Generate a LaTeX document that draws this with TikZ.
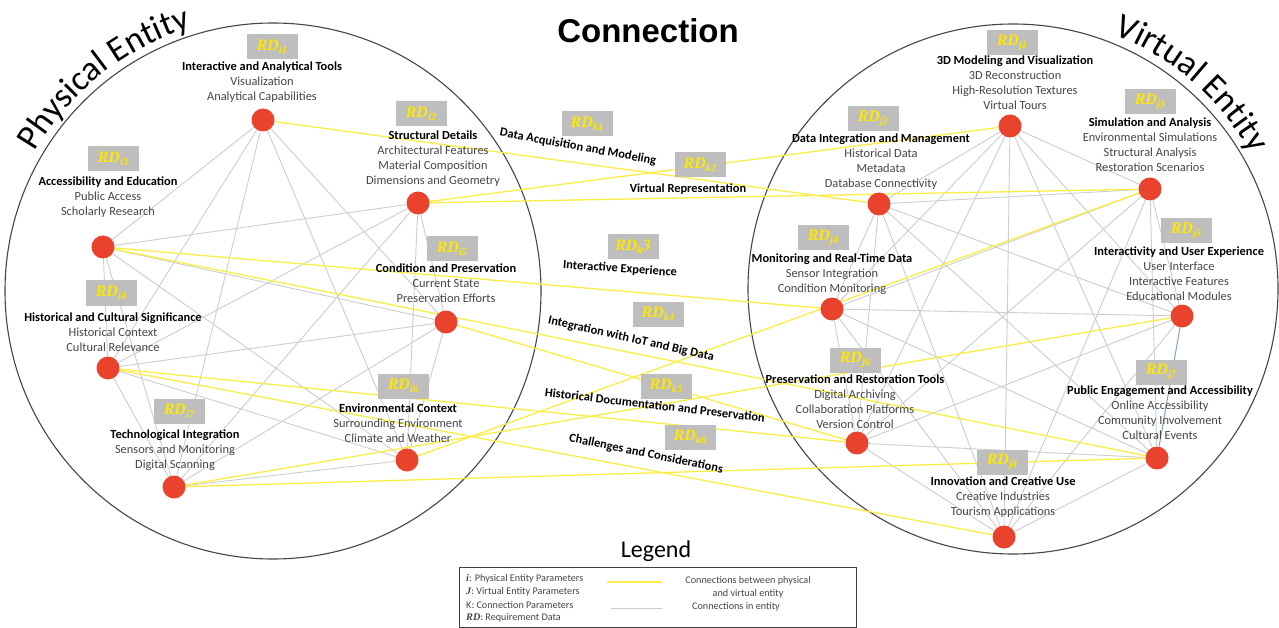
\documentclass[tikz,border=0pt]{standalone}
\usepackage{fontspec}
\setmainfont{Carlito}
\newfontfamily\headfont{Liberation Sans}
\newfontfamily\rdfont{Liberation Serif}
\usetikzlibrary{decorations.text}
\pgfdeclarelayer{bg}
\pgfsetlayers{bg,main}
\definecolor{dotred}{RGB}{234,67,45}
\definecolor{lineyellow}{RGB}{250,238,70}
\definecolor{linegray}{RGB}{205,205,205}
\definecolor{lineblue}{RGB}{125,160,215}
\definecolor{boxgray}{RGB}{190,190,190}
\definecolor{rdyellow}{RGB}{255,232,0}
\definecolor{subgray}{RGB}{70,70,70}
\definecolor{circgray}{RGB}{70,70,70}
\newcommand\nodetitle[1]{{\color{black}\bfseries #1}}
\newcommand\rdsub[1]{{\rdfont\bfseries\itshape RD\raisebox{-0.4ex}{\fontsize{10.5}{10.5}\selectfont #1}}}
\begin{document}
\begin{tikzpicture}[x=1pt,y=-1pt,
 dot/.style={circle,fill=dotred,minimum size=23pt,inner sep=0pt},
 rdbox/.style={fill=boxgray,minimum width=51pt,minimum height=25pt,inner sep=0pt,text=rdyellow,font=\fontsize{16}{16}\selectfont},
 info/.style={align=center,font=\fontsize{12.4}{15}\selectfont,text=subgray,inner sep=0pt},
 gedge/.style={draw=linegray,line width=0.9pt},
 bedge/.style={draw=lineblue,line width=1pt},
 yedge/.style={draw=lineyellow,line width=1.3pt},
 clabel/.style={font=\bfseries\fontsize{12.4}{13}\selectfont,inner sep=0pt,text=black},
 ent/.style={draw=circgray,line width=1.1pt},
 legtext/.style={font=\fontsize{10.2}{11}\selectfont,text=subgray,inner sep=0pt}]
\useasboundingbox (0,0) rectangle (1279,628);
\begin{pgfonlayer}{bg}
\fill[white] (0,0) rectangle (1279,628);
\draw[ent] (273,291) circle[radius=268];
\draw[ent] (1013,289) circle[radius=265];
\end{pgfonlayer}

% titles
\node[font=\headfont\bfseries\fontsize{33}{33}\selectfont] (title) at (648,31) {Connection};
\path[decorate,decoration={text along path,text align=center,text={|\fontsize{35}{35}\selectfont|Physical Entity}}]
  (273,291) ++(-162:276) arc[start angle=-162,end angle=-95,radius=276];
\path[decorate,decoration={text along path,text align=center,text={|\fontsize{35}{35}\selectfont|Virtual Entity}}]
  (1013,289) ++(-83:274) arc[start angle=-83,end angle=-15,radius=274];

% dots
\node[dot] (i1) at (263,120) {};
\node[dot] (i2) at (418,203) {};
\node[dot] (i3) at (103,247) {};
\node[dot] (i4) at (108,368) {};
\node[dot] (i5) at (446,322) {};
\node[dot] (i6) at (407,460) {};
\node[dot] (i7) at (174,487) {};
\node[dot] (j1) at (1010,126) {};
\node[dot] (j2) at (879,204) {};
\node[dot] (j3) at (1150,189) {};
\node[dot] (j4) at (832,309) {};
\node[dot] (j5) at (1182,316) {};
\node[dot] (j6) at (857,443) {};
\node[dot] (j7) at (1157,458) {};
\node[dot] (j8) at (1004,537) {};

% connectors
\begin{pgfonlayer}{bg}
\foreach \a/\b in {i1/i3,i1/i4,i1/i5,i1/i6,i1/i7,i2/i3,i2/i4,i2/i5,i2/i6,i2/i7,
  i3/i4,i3/i5,i3/i6,i3/i7,i4/i5,i4/i6,i4/i7,i5/i6,i5/i7,i6/i7}
  \draw[gedge] (\a) -- (\b);
\foreach \a/\b in {j1/j2,j1/j3,j1/j4,j1/j5,j1/j6,j1/j7,j1/j8,j2/j3,j2/j4,j2/j5,j2/j6,j2/j7,j2/j8,
  j3/j4,j3/j5,j3/j6,j3/j7,j3/j8,j4/j5,j4/j6,j4/j7,j4/j8,j5/j6,j5/j8,j6/j7,j6/j8,j7/j8}
  \draw[gedge] (\a) -- (\b);
\draw[bedge] (j5) -- (j7);
\foreach \a/\b in {i1/j2,i2/j1,i2/j3,i3/j4,i3/j7,i5/j6,i4/j6,i4/j8,i6/j3,i7/j5,i7/j7}
  \draw[yedge] (\a) -- (\b);
\end{pgfonlayer}

% texts physical
\node[info] (i1t) at (262,82) {\nodetitle{Interactive and Analytical Tools}\\Visualization\\Analytical Capabilities};
\node[info] (i2t) at (433,159) {\nodetitle{Structural Details}\\Architectural Features\\Material Composition\\Dimensions and Geometry};
\node[info] (i3t) at (108,197) {\nodetitle{Accessibility and Education}\\Public Access\\Scholarly Research};
\node[info] (i5t) at (446,283) {\nodetitle{Condition and Preservation}\\Current State\\Preservation Efforts};
\node[info] (i4t) at (113,332) {\nodetitle{Historical and Cultural Significance}\\Historical Context\\Cultural Relevance};
\node[info] (i7t) at (175,450) {\nodetitle{Technological Integration}\\Sensors and Monitoring\\Digital Scanning};
\node[info] (i6t) at (398,423) {\nodetitle{Environmental Context}\\Surrounding Environment\\Climate and Weather};
% texts virtual
\node[info] (j1t) at (1015,83) {\nodetitle{3D Modeling and Visualization}\\3D Reconstruction\\High-Resolution Textures\\Virtual Tours};
\node[info] (j2t) at (881,162) {\nodetitle{Data Integration and Management}\\Historical Data\\Metadata\\Database Connectivity};
\node[info] (j3t) at (1150,145) {\nodetitle{Simulation and Analysis}\\Environmental Simulations\\Structural Analysis\\Restoration Scenarios};
\node[info] (j4t) at (832,274) {\nodetitle{Monitoring and Real-Time Data}\\Sensor Integration\\Condition Monitoring};
\node[info] (j5t) at (1179,274) {\nodetitle{Interactivity and User Experience}\\User Interface\\Interactive Features\\Educational Modules};
\node[info] (j6t) at (855,402) {\nodetitle{Preservation and Restoration Tools}\\Digital Archiving\\Collaboration Platforms\\Version Control};
\node[info] (j7t) at (1160,413) {\nodetitle{Public Engagement and Accessibility}\\Online Accessibility\\Community Involvement\\Cultural Events};
\node[info] (j8t) at (1003,497) {\nodetitle{Innovation and Creative Use}\\Creative Industries\\Tourism Applications};

% connection labels
\node[clabel,rotate=-10.4] (k1t) at (578,147) {Data Acquisition and Modeling};
\node[clabel] (k2t) at (688,189) {Virtual Representation};
\node[clabel,rotate=-4] (k3t) at (620,269) {Interactive Experience};
\node[clabel,rotate=-12.7] (k4t) at (631,339) {Integration with IoT and Big Data};
\node[clabel,rotate=-6.7] (k5t) at (655,405) {Historical Documentation and Preservation};
\node[clabel,rotate=-11.7] (k6t) at (646,454) {Challenges and Considerations};

% RD boxes
\node[rdbox] (i1b) at (272,47) {\rdsub{i1}};
\node[rdbox] (i2b) at (421,114) {\rdsub{i2}};
\node[rdbox] (i3b) at (113,159) {\rdsub{i3}};
\node[rdbox] (i5b) at (452,249) {\rdsub{i5}};
\node[rdbox] (i4b) at (111,293) {\rdsub{i4}};
\node[rdbox] (i7b) at (179,411) {\rdsub{i7}};
\node[rdbox] (i6b) at (403,386) {\rdsub{i6}};
\node[rdbox] (k1b) at (587,124) {\rdsub{k1}};
\node[rdbox] (k2b) at (700,165) {\rdsub{k2}};
\node[rdbox] (k3b) at (633,247) {\rdsub{k}{\rdfont\bfseries\itshape 3}};
\node[rdbox] (k4b) at (658,314) {\rdsub{k4}};
\node[rdbox] (k5b) at (666,386) {\rdsub{k5}};
\node[rdbox] (k6b) at (690,437) {\rdsub{k6}};
\node[rdbox] (j1b) at (1012,43) {\rdsub{j1}};
\node[rdbox] (j2b) at (873,119) {\rdsub{j2}};
\node[rdbox] (j3b) at (1150,102) {\rdsub{j3}};
\node[rdbox] (j4b) at (823,238) {\rdsub{j4}};
\node[rdbox] (j5b) at (1186,231) {\rdsub{j5}};
\node[rdbox] (j6b) at (855,360) {\rdsub{j6}};
\node[rdbox] (j7b) at (1161,372) {\rdsub{j7}};
\node[rdbox] (j8b) at (1002,462) {\rdsub{j8}};

% legend
\node[font=\fontsize{24}{24}\selectfont] (legt) at (656,551) {Legend};
\node[draw=black!75,line width=0.8pt,minimum width=397pt,minimum height=60pt,inner sep=0pt] (legbox) at (657.5,597.5) {};
\node[legtext,anchor=west] (l1) at (466,579) {{\rdfont\bfseries\itshape i}: Physical Entity Parameters};
\node[legtext,anchor=west] (l2) at (466,592) {{\rdfont\bfseries\itshape J}: Virtual Entity Parameters};
\node[legtext,anchor=west] (l3) at (466,605) {K: Connection Parameters};
\node[legtext,anchor=west] (l4) at (466,618) {{\rdfont\bfseries\itshape RD}: Requirement Data};
\coordinate (ly1) at (607,582);
\coordinate (ly2) at (662,582);
\coordinate (lg1) at (611,608);
\coordinate (lg2) at (662,608);
\draw[yedge] (ly1) -- (ly2);
\draw[gedge] (lg1) -- (lg2);
\node[legtext] (l5) at (748,581) {Connections between physical};
\node[legtext] (l6) at (748,594) {and virtual entity};
\node[legtext] (l7) at (736,607) {Connections in entity};
\end{tikzpicture}
\end{document}
